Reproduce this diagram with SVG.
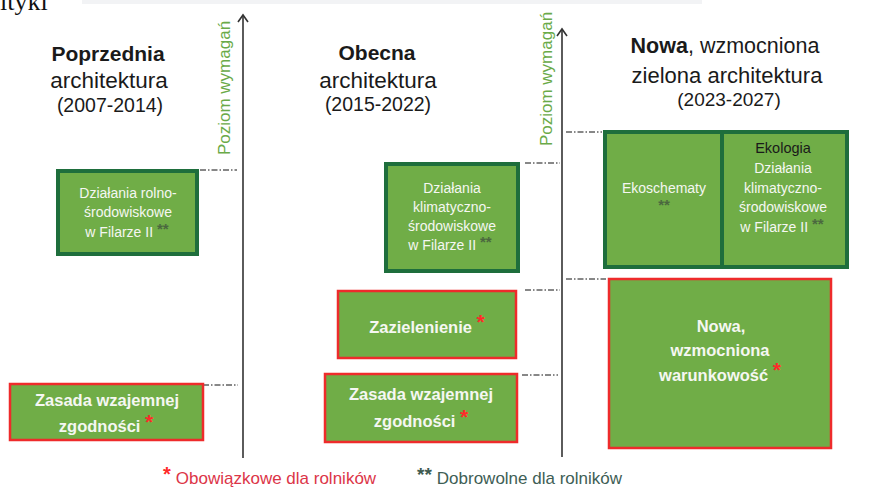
<svg xmlns="http://www.w3.org/2000/svg" width="878" height="489" viewBox="0 0 878 489">
<style>
.title{font-family:"Liberation Sans",Arial,sans-serif;fill:#1a1a1a;text-anchor:middle}
.b{font-weight:bold}
.boxg{fill:#70ad47;stroke:#1e6e3c;stroke-width:4}
.boxr{fill:#70ad47;stroke:#ee2b2b;stroke-width:2.5}
.bt{font-family:"Liberation Sans",Arial,sans-serif;font-size:14px;fill:#f5f7f2;text-anchor:middle}
.bb{font-family:"Liberation Sans",Arial,sans-serif;font-size:16.5px;font-weight:bold;fill:#f5f7f2;text-anchor:middle}
.gst{fill:#4b683f;font-weight:bold;font-size:15px}
.rst{fill:#ff2a2a;font-weight:bold;font-size:21px}
.dd{stroke:#111;stroke-width:1;stroke-dasharray:6 2 1.5 2;fill:none}
.axis{stroke:#333;stroke-width:1.6;fill:none}
.ylab{font-family:"Liberation Sans",Arial,sans-serif;font-size:17px;fill:#6aaa48;text-anchor:middle}
.leg{font-family:"Liberation Sans",Arial,sans-serif;font-size:17px}
</style>
<rect x="0" y="0" width="878" height="489" fill="#ffffff"/>
<rect x="82" y="0" width="620" height="4" fill="#f2f3f5"/>
<text x="0" y="10" font-family="'Liberation Serif',serif" font-size="26" fill="#111">ityki</text>

<g id="title-1">
<text class="title b" x="108" y="61" font-size="21">Poprzednia</text>
<text class="title" x="109" y="88" font-size="22.5">architektura</text>
<text class="title" x="110" y="112" font-size="19.5">(2007-2014)</text>
</g>
<g id="title-2">
<text class="title b" x="377" y="60" font-size="21">Obecna</text>
<text class="title" x="378" y="88" font-size="22.5">architektura</text>
<text class="title" x="378" y="111" font-size="19.5">(2015-2022)</text>
</g>
<g id="title-3">
<text class="title" x="725" y="53" font-size="21.5"><tspan class="b">Nowa</tspan>, wzmocniona</text>
<text class="title" x="727" y="83" font-size="22">zielona architektura</text>
<text class="title" x="729" y="106" font-size="19">(2023-2027)</text>
</g>

<g id="connectors">
<line class="axis" x1="243" y1="15" x2="243" y2="458"/>
<polyline class="axis" points="238,22 243,15 248,22"/>
<line class="axis" x1="562" y1="29" x2="562" y2="457"/>
<polyline class="axis" points="557,36 562,29 567,36"/>
<line class="dd" x1="200" y1="170" x2="237" y2="170"/>
<line class="dd" x1="203" y1="385" x2="238" y2="385"/>
<line class="dd" x1="525" y1="163" x2="560" y2="163"/>
<line class="dd" x1="525" y1="290" x2="560" y2="290"/>
<line class="dd" x1="522" y1="375" x2="558" y2="375"/>
<line class="dd" x1="566" y1="132" x2="602" y2="132"/>
<line class="dd" x1="566" y1="279" x2="606" y2="279"/>
</g>

<g id="axis-label-1">
<text class="ylab" transform="translate(230,88) rotate(-90)">Poziom wymagań</text>
</g>
<g id="axis-label-2">
<text class="ylab" transform="translate(552,79) rotate(-90)">Poziom wymagań</text>
</g>

<g id="box-rolno">
<rect class="boxg" x="58" y="171" width="139" height="83"/>
<text class="bt" x="128" y="198">Działania rolno-</text>
<text class="bt" x="128" y="217">środowiskowe</text>
<text class="bt" x="127" y="237">w Filarze II <tspan class="gst" dy="-3">**</tspan></text>
</g>

<g id="box-zasada-1">
<rect class="boxr" x="10" y="384" width="193" height="56"/>
<text class="bb" x="107" y="406">Zasada wzajemnej</text>
<text class="bb" x="106" y="432">zgodności <tspan class="rst" dy="-3">*</tspan></text>
</g>

<g id="box-klimat-2">
<rect class="boxg" x="386" y="164" width="132" height="107"/>
<text class="bt" x="452" y="193">Działania</text>
<text class="bt" x="452" y="212">klimatyczno-</text>
<text class="bt" x="452" y="231">środowiskowe</text>
<text class="bt" x="450" y="250">w Filarze II <tspan class="gst" dy="-3">**</tspan></text>
</g>

<g id="box-zazielenienie">
<rect class="boxr" x="338" y="291" width="178" height="67"/>
<text class="bb" x="427" y="333" font-size="17">Zazielenienie <tspan class="rst" dy="-4">*</tspan></text>
</g>

<g id="box-zasada-2">
<rect class="boxr" x="325" y="374" width="192" height="68"/>
<text class="bb" x="421" y="400">Zasada wzajemnej</text>
<text class="bb" x="421" y="427">zgodności <tspan class="rst" dy="-3">*</tspan></text>
</g>

<g id="box-ekoschematy">
<rect class="boxg" x="605" y="132" width="117" height="135"/>
<text class="bt" x="664" y="193">Ekoschematy</text>
<text class="bt" x="664" y="210"><tspan class="gst">**</tspan></text>
</g>

<g id="box-ekologia">
<rect class="boxg" x="722" y="132" width="125" height="135"/>
<text class="bt" x="783" y="153" style="fill:#1a1a1a;font-size:14.5px">Ekologia</text>
<text class="bt" x="783" y="173">Działania</text>
<text class="bt" x="783" y="193">klimatyczno-</text>
<text class="bt" x="783" y="212">środowiskowe</text>
<text class="bt" x="782" y="232">w Filarze II <tspan class="gst" dy="-3">**</tspan></text>
</g>

<g id="box-warunkowosc">
<rect class="boxr" x="609" y="279" width="222" height="169"/>
<text class="bb" x="721" y="332" font-size="17">Nowa,</text>
<text class="bb" x="720" y="356" font-size="17">wzmocniona</text>
<text class="bb" x="720" y="381" font-size="17">warunkowość <tspan class="rst" dy="-4">*</tspan></text>
</g>

<g id="legend">
<text class="leg" x="163" y="484"><tspan fill="#ff2a2a" font-weight="bold" font-size="20" dy="-3">*</tspan><tspan fill="#dc3548" dx="5" dy="3">Obowiązkowe dla rolników</tspan></text>
<text class="leg" x="417" y="484"><tspan fill="#3e5a4f" font-weight="bold" font-size="19" dy="-3">**</tspan><tspan fill="#405e55" dx="5" dy="3">Dobrowolne dla rolników</tspan></text>
</g>
</svg>
